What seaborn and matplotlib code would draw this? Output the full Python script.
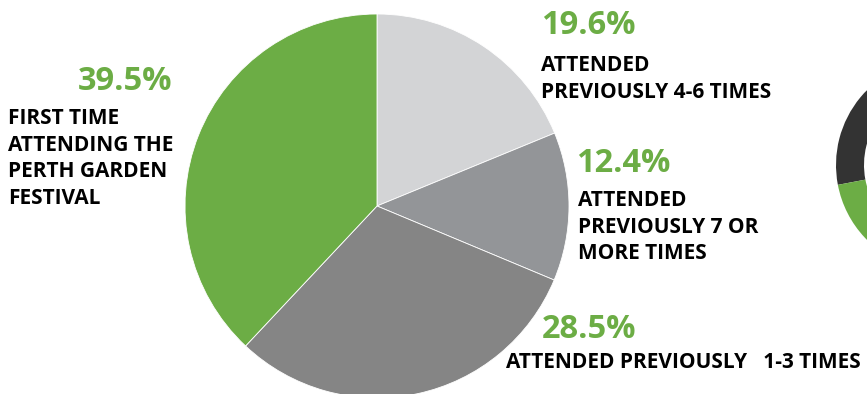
import matplotlib
matplotlib.use("Agg")
import matplotlib.pyplot as plt
import seaborn as sns

sns.set_theme(style="white")
plt.rcParams['font.family'] = ['Open Sans', 'DejaVu Sans']

# Data
categories = ["Attended previously 4-6 times", "Attended previously 7 or more times",
              "Attended previously 1-3 times", "First time attending the Perth Garden Festival"]
values = [18.8, 12.5, 30.7, 38.0]
pct_labels = ["19.6%", "12.4%", "28.5%", "39.5%"]
desc_labels = ["ATTENDED\nPREVIOUSLY 4-6 TIMES",
               "ATTENDED\nPREVIOUSLY 7 OR\nMORE TIMES",
               "ATTENDED PREVIOUSLY   1-3 TIMES",
               "FIRST TIME\nATTENDING THE\nPERTH GARDEN\nFESTIVAL"]
colors = ["#d3d4d6", "#939598", "#858585", "#6cad45"]

# Partially visible second chart (cut off at right edge)
side_values = [28, 72]
side_colors = ["#333333", "#6cad45"]

W, H = 867, 394
fig = plt.figure(figsize=(W / 100, H / 100), dpi=100)
ax = fig.add_axes([0, 0, 1, 1])

ax.pie(values, colors=colors, startangle=90, counterclock=False,
       center=(377, H - 206), radius=192,
       wedgeprops=dict(linewidth=0.6, edgecolor="white"))
ax.pie(side_values, colors=side_colors, startangle=90, counterclock=True,
       center=(942, H - 165), radius=106,
       wedgeprops=dict(width=28, linewidth=0))

ax.set_xlim(0, W)
ax.set_ylim(0, H)
ax.set_aspect('equal')
ax.axis('off')

green = "#6cad45"
pct_fs = 23.5
lab_fs = 15
ls = 1.35

# 19.6%
ax.text(541, H - 9, pct_labels[0], color=green, fontsize=pct_fs, fontweight='bold', ha='left', va='top')
ax.text(541, H - 55, desc_labels[0], color="black", fontsize=lab_fs, fontweight='bold', ha='left', va='top', linespacing=ls)
# 12.4%
ax.text(576, H - 147, pct_labels[1], color=green, fontsize=pct_fs, fontweight='bold', ha='left', va='top')
ax.text(578, H - 190, desc_labels[1], color="black", fontsize=lab_fs, fontweight='bold', ha='left', va='top', linespacing=ls)
# 28.5%
ax.text(542, H - 313, pct_labels[2], color=green, fontsize=pct_fs, fontweight='bold', ha='left', va='top')
ax.text(506, H - 352, desc_labels[2], color="black", fontsize=lab_fs, fontweight='bold', ha='left', va='top', linespacing=ls)
# 39.5%
ax.text(172, H - 65, pct_labels[3], color=green, fontsize=pct_fs, fontweight='bold', ha='right', va='top')
ax.text(8, H - 108, desc_labels[3], color="black", fontsize=lab_fs, fontweight='bold', ha='left', va='top', linespacing=ls)

fig.savefig("out.png", dpi=100)
